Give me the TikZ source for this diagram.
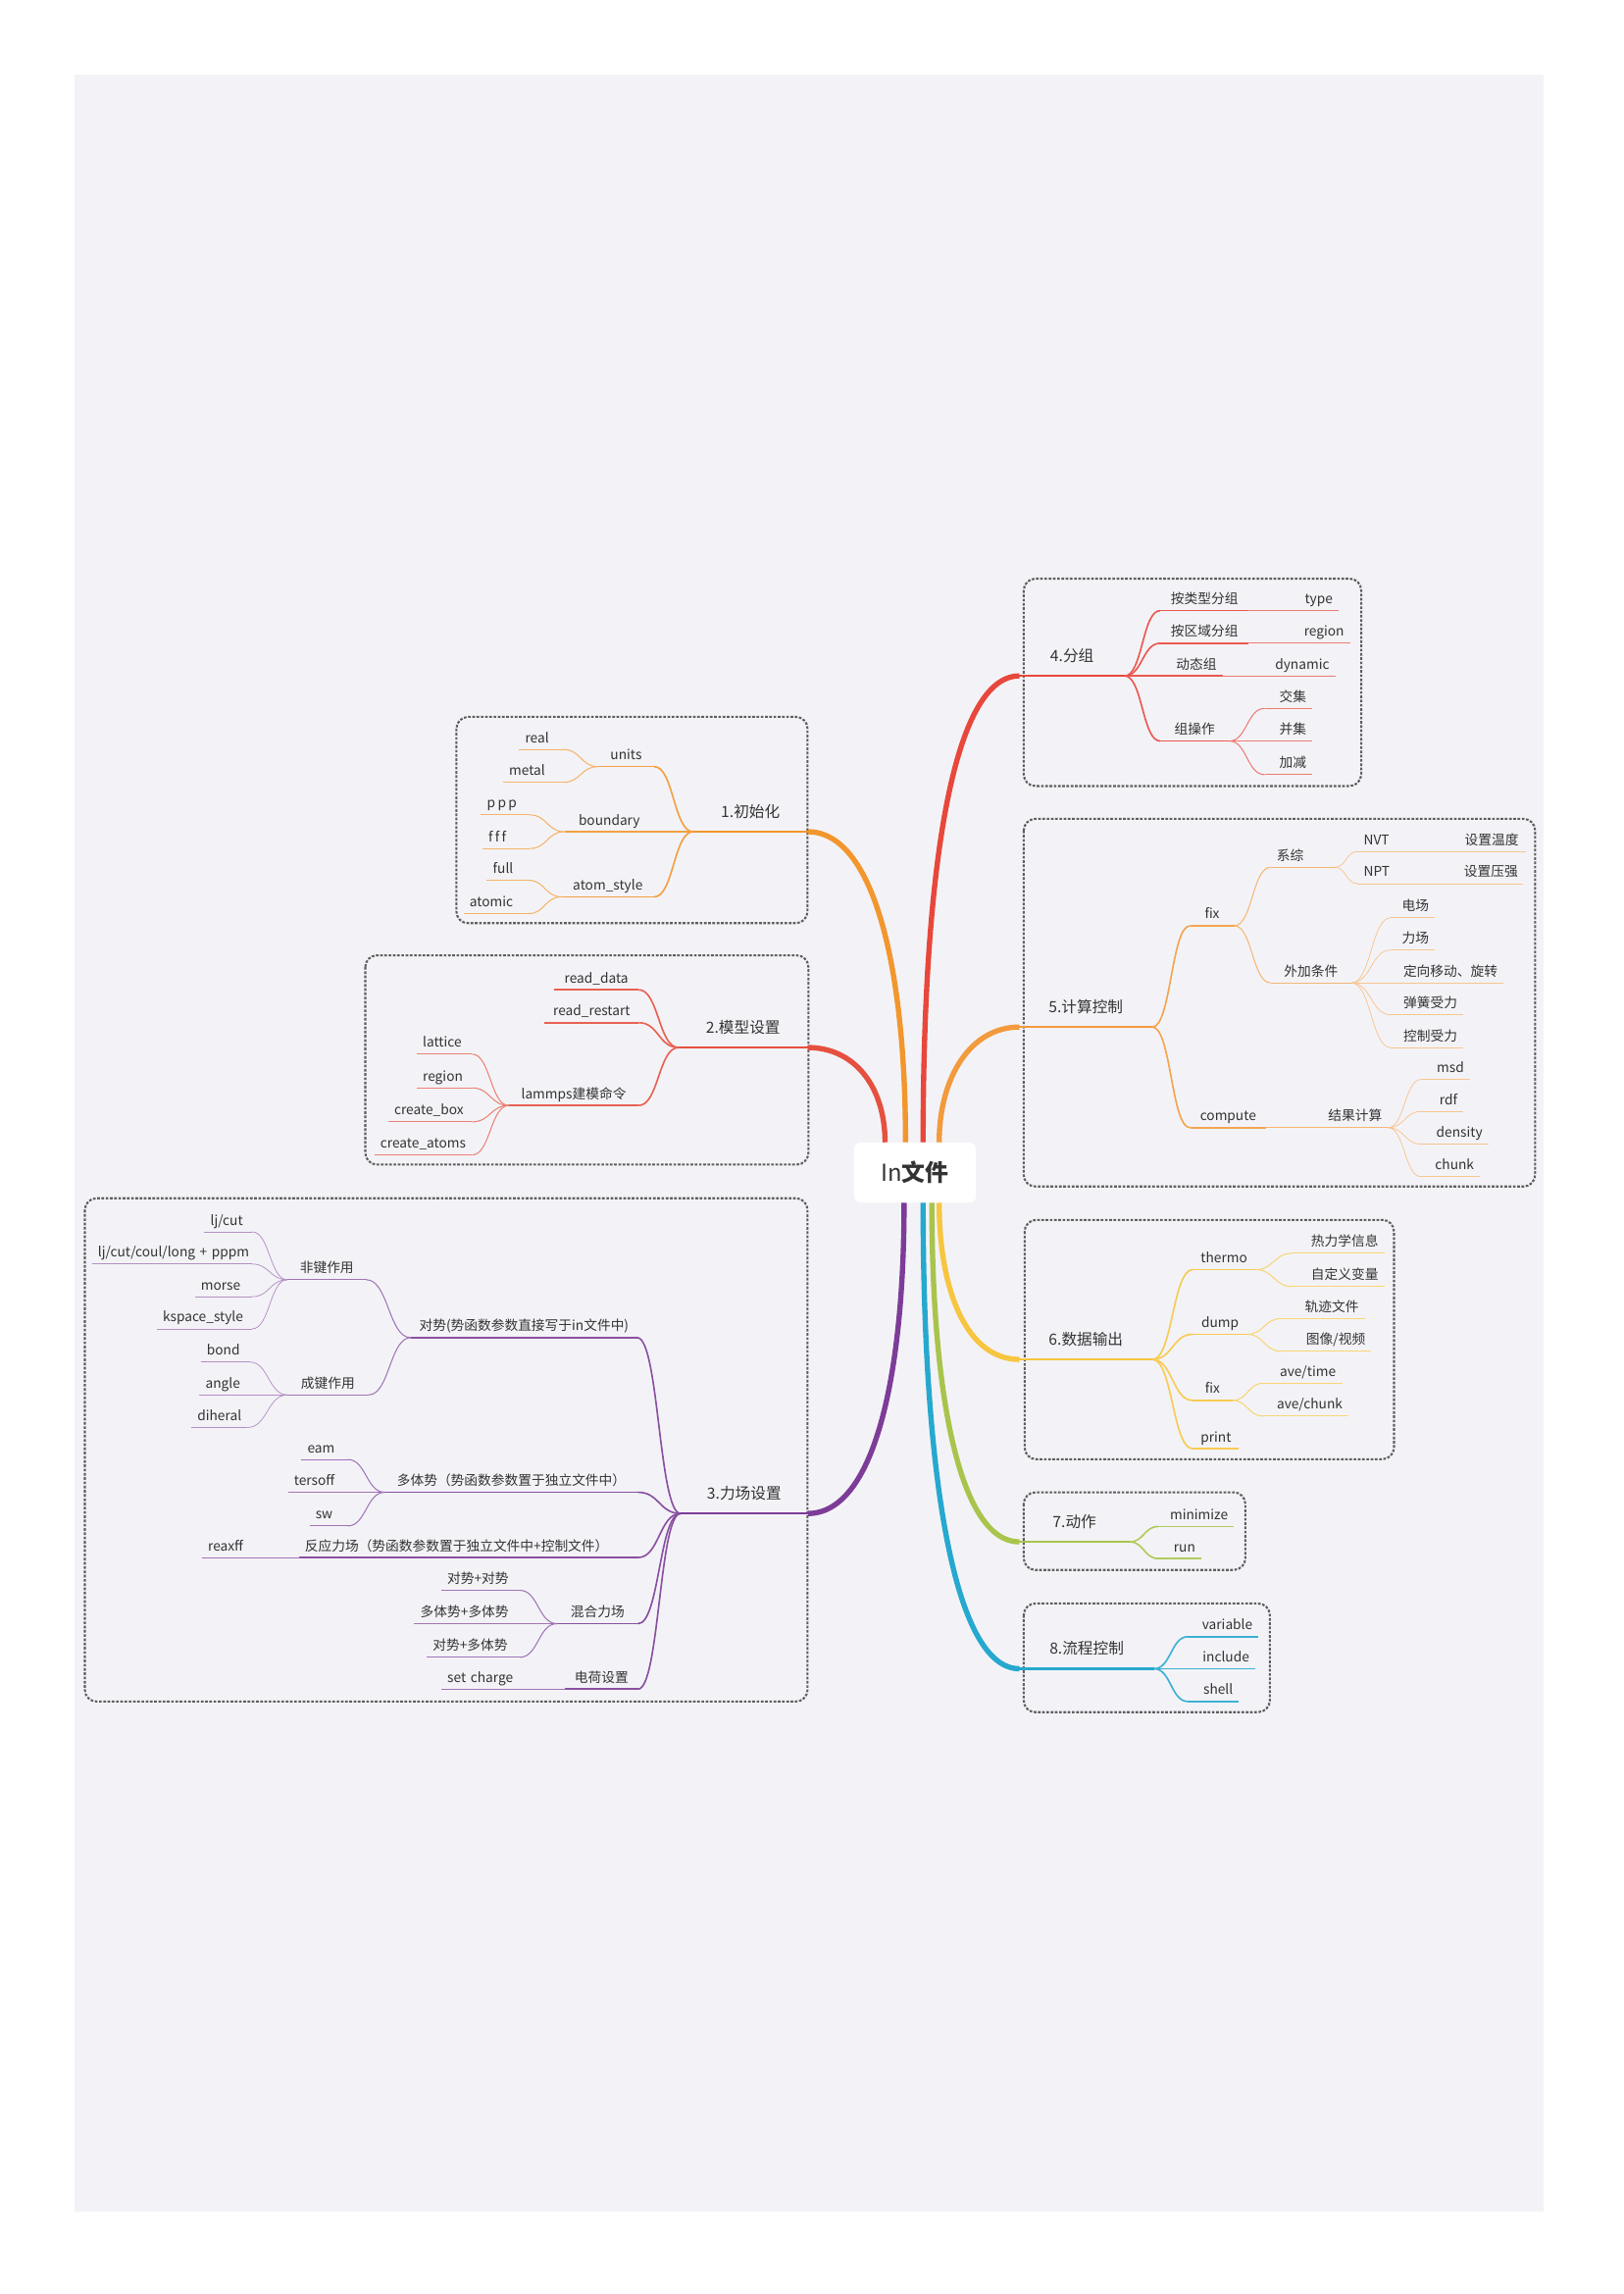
\documentclass[tikz,border=0pt]{standalone}
\usepackage{fontspec}
\setmainfont{Noto Sans CJK SC}
\usetikzlibrary{calc}
\definecolor{pagebg}{HTML}{F3F3F7}
\definecolor{txt}{HTML}{333333}
\definecolor{frame}{HTML}{5E5E5E}
\definecolor{b1}{HTML}{F2962E}
\definecolor{b2}{HTML}{E5503F}
\definecolor{b3}{HTML}{7D3C98}
\definecolor{b4}{HTML}{E8473C}
\definecolor{b5}{HTML}{F39A3C}
\definecolor{b6}{HTML}{F7C540}
\definecolor{b7}{HTML}{A9C44C}
\definecolor{b8}{HTML}{27A8CF}
\newcommand{\topicnode}[7][]{%
  \pgfmathsetmacro\tpwidth{#5-#4-8}%
  \node[topic,#1,text width=\tpwidth pt] (#3) at ({(#4+#5)/2},#6) {#7};%
  \draw[#2] (#3.south west) -- (#3.south east);}

\begin{document}
\begin{tikzpicture}[x=1pt,y=-1pt,
  topic/.style={anchor=south,inner xsep=4pt,inner ysep=2.5pt,text depth=2pt,align=center,text=txt,font=\fontsize{9.2}{11}\selectfont},
  main topic/.style={inner ysep=7.3pt,text depth=2.3pt,font=\fontsize{10.5}{12}\selectfont},
  root node/.style={fill=white,rounded corners=4pt,minimum width=83pt,minimum height=41pt,text=txt,font=\fontsize{16}{18}\selectfont},
  lft/.style={align=left},rgt/.style={align=right},
  trunk/.style={draw=\brc,line width=3.6pt},
  l1/.style={draw=\brc,line width=1.6pt},
  l2/.style={draw=\brc!90!white,line width=1.1pt},
  l3/.style={draw=\brc!72!white,line width=0.7pt},
  l4/.style={draw=\brc!58!white,line width=0.5pt},
  sc/.style={to path={.. controls ($(\tikztostart)!.5!(\tikztotarget|-\tikztostart)$) and ($(\tikztotarget)!.5!(\tikztostart|-\tikztotarget)$) .. (\tikztotarget)}},
  group box/.style={draw=frame,line width=1.4pt,dash pattern=on 1.8pt off 1.1pt,rounded corners=8pt}]
\useasboundingbox (0,0) rectangle (1110,1568);
\fill[white] (0,0) rectangle (1110,1568);
\fill[pagebg] (51,51) rectangle (1055,1512);

\node[root node] (c) at (625.5,801.5) {In\textbf{文件}};
\coordinate (t1) at ([xshift=-6.5pt]c.north);
\coordinate (t2) at ([xshift=-20.5pt]c.north);
\coordinate (t4) at ([xshift=5.5pt]c.north);
\coordinate (t5) at ([xshift=16.5pt]c.north);
\coordinate (t3) at ([xshift=-7.5pt]c.south);
\coordinate (t8) at ([xshift=5.5pt]c.south);
\coordinate (t7) at ([xshift=11.5pt]c.south);
\coordinate (t6) at ([xshift=16.5pt]c.south);

% 1
\def\brc{b1}
\draw[group box] (312,490) rectangle (552,631);
\topicnode[main topic]{l1}{init}{474}{552}{568.5}{1.初始化}
\topicnode{l2}{units}{409}{447}{524}{units}
\topicnode{l2}{boundary}{386}{447}{568.5}{boundary}
\topicnode{l2}{atom}{384}{447}{613}{atom\_style}
\topicnode[lft]{l3}{real}{355}{385}{512.3}{real}
\topicnode[lft]{l3}{metal}{344}{385}{534.7}{metal}
\topicnode[lft]{l3}{ppp}{329}{362}{557}{p\,p\,p}
\topicnode[lft]{l3}{fff}{330}{362}{580}{f\,f\,f}
\topicnode[lft]{l3}{full}{333}{361}{601.7}{full}
\topicnode[lft]{l3}{atomic}{317}{361}{624.5}{atomic}
\draw[trunk] (t1) .. controls +(0,-120) and +(45,0) .. (init.south east);
\path[l2] (init.south west) edge[sc] (units.south east) edge[sc] (boundary.south east) edge[sc] (atom.south east);
\path[l3] (units.south west) edge[sc] (real.south east) edge[sc] (metal.south east)
  (boundary.south west) edge[sc] (ppp.south east) edge[sc] (fff.south east)
  (atom.south west) edge[sc] (full.south east) edge[sc] (atomic.south east);

% 2
\def\brc{b2}
\draw[group box] (249.7,653) rectangle (552.6,796);
\topicnode[main topic]{l1}{model}{464}{552}{716}{2.模型设置}
\topicnode{l2}{readdata}{379}{436.4}{676.5}{read\_data}
\topicnode{l2}{readrestart}{372.5}{436.4}{699}{read\_restart}
\topicnode{l2}{lammps}{348}{436.4}{755.6}{lammps建模命令}
\topicnode[lft]{l3}{lattice}{285}{322.5}{720.5}{lattice}
\topicnode[lft]{l3}{regionA}{285}{322.5}{743.6}{region}
\topicnode[lft]{l3}{createbox}{265.5}{322.5}{766.8}{create\_box}
\topicnode[lft]{l3}{createatoms}{256}{322.5}{789.4}{create\_atoms}
\draw[trunk] (t2) .. controls +(0,-38) and +(32,0) .. (model.south east);
\path[l2] (model.south west) edge[sc] (readdata.south east) edge[sc] (readrestart.south east) edge[sc] (lammps.south east);
\path[l3] (lammps.south west) edge[sc] (lattice.south east) edge[sc] (regionA.south east) edge[sc] (createbox.south east) edge[sc] (createatoms.south east);

% 3
\def\brc{b3}
\draw[group box] (58,819) rectangle (552,1163);
\topicnode[main topic]{l1}{force}{465.4}{552}{1034.5}{3.力场设置}
\topicnode{l2}{pair}{281}{435.4}{914.3}{对势(势函数参数直接写于in文件中)}
\topicnode{l3}{nonbond}{196.6}{250.2}{874.7}{非键作用}
\topicnode[lft]{l4}{ljcut}{139.8}{172.2}{842}{lj/cut}
\topicnode[lft]{l4}{ljlong}{63}{172.2}{864}{\mbox{lj/cut/coul/long + pppm}}
\topicnode[lft]{l4}{morse}{133.3}{172.2}{886.3}{morse}
\topicnode[lft]{l4}{kspace}{107.3}{172.2}{908.3}{kspace\_style}
\topicnode{l3}{bonded}{196.6}{251.8}{953.4}{成键作用}
\topicnode[lft]{l4}{bond}{137.4}{170.6}{931}{bond}
\topicnode[lft]{l4}{angle}{136.5}{170.6}{953.4}{angle}
\topicnode[lft]{l4}{diheral}{131}{169}{975.7}{diheral}
\topicnode{l2}{many}{263.2}{436}{1020}{多体势（势函数参数置于独立文件中）}
\topicnode[lft]{l3}{eam}{206.2}{237.5}{997.6}{eam}
\topicnode[lft]{l3}{tersoff}{197}{237.5}{1020}{tersoff}
\topicnode[lft]{l3}{sw}{211.7}{237.5}{1043}{sw}
\topicnode[lft]{l2}{reax}{204.4}{436}{1064.6}{反应力场（势函数参数置于独立文件中+控制文件）}
\topicnode[lft]{l3}{reaxff}{138.2}{204.4}{1064.6}{reaxff}
\topicnode{l2}{mix}{380.9}{436}{1109.8}{混合力场}
\topicnode[lft]{l3}{pp}{301.8}{355.1}{1087}{对势+对势}
\topicnode[lft]{l3}{mm}{283.4}{355.1}{1109.8}{多体势+多体势}
\topicnode[lft]{l3}{pm}{291.9}{355.1}{1132.8}{对势+多体势}
\topicnode{l2}{charge}{386.4}{436}{1154.5}{电荷设置}
\topicnode[lft]{l3}{setcharge}{301.8}{386.4}{1154.5}{set charge}
\draw[trunk] (t3) .. controls +(0,120) and +(45,0) .. (force.south east);
\path[l2] (force.south west) edge[sc] (pair.south east) edge[sc] (many.south east) edge[sc] (reax.south east) edge[sc] (mix.south east) edge[sc] (charge.south east);
\path[l3] (pair.south west) edge[sc] (nonbond.south east) edge[sc] (bonded.south east)
  (many.south west) edge[sc] (eam.south east) edge[sc] (tersoff.south east) edge[sc] (sw.south east)
  (reax.south west) edge[sc] (reaxff.south east)
  (mix.south west) edge[sc] (pp.south east) edge[sc] (mm.south east) edge[sc] (pm.south east)
  (charge.south west) edge[sc] (setcharge.south east);
\path[l4] (nonbond.south west) edge[sc] (ljcut.south east) edge[sc] (ljlong.south east) edge[sc] (morse.south east) edge[sc] (kspace.south east)
  (bonded.south west) edge[sc] (bond.south east) edge[sc] (angle.south east) edge[sc] (diheral.south east);

% 4
\def\brc{b4}
\draw[group box] (699.8,395.5) rectangle (930.5,537.3);
\topicnode[main topic]{l1}{group}{697}{768.6}{462}{4.分组}
\topicnode{l2}{bytype}{793.2}{853.5}{417.4}{按类型分组}
\topicnode[rgt]{l3}{type}{853.5}{915}{417.4}{type}
\topicnode{l2}{byregion}{793.2}{853.5}{439.7}{按区域分组}
\topicnode[rgt]{l3}{regionB}{853.5}{922.8}{439.7}{region}
\topicnode[rgt]{l2}{dyn}{793.2}{835.6}{462}{动态组}
\topicnode[rgt]{l3}{dynamic}{835.6}{912.7}{462}{dynamic}
\topicnode{l2}{groupop}{793.2}{840.1}{506.5}{组操作}
\topicnode[rgt]{l3}{inter}{864.7}{897}{484.2}{交集}
\topicnode[rgt]{l3}{union}{864.7}{897}{506.5}{并集}
\topicnode[rgt]{l3}{addsub}{864.7}{897}{529.5}{加减}
\draw[trunk] (t4) .. controls +(0,-190) and +(-45,0) .. (group.south west);
\path[l2] (group.south east) edge[sc] (bytype.south west) edge[sc] (byregion.south west) edge[sc] (dyn.south west) edge[sc] (groupop.south west);
\path[l3] (bytype.south east) edge[sc] (type.south west)
  (byregion.south east) edge[sc] (regionB.south west)
  (dyn.south east) edge[sc] (dynamic.south west)
  (groupop.south east) edge[sc] (inter.south west) edge[sc] (union.south west) edge[sc] (addsub.south west);

% 5
\def\brc{b5}
\draw[group box] (699.8,559.7) rectangle (1049.4,811);
\topicnode[main topic]{l1}{calc}{697}{787.5}{702}{5.计算控制}
\topicnode{l2}{fix}{813.7}{843.5}{632.8}{fix}
\topicnode[lft]{l3}{ensemble}{868.7}{912.1}{592.8}{系综}
\topicnode[lft]{l4}{nvt}{928.2}{996.8}{582}{NVT}
\topicnode{l4}{settemp}{996.8}{1042.6}{582}{设置温度}
\topicnode[lft]{l4}{npt}{928.2}{996.8}{604}{NPT}
\topicnode{l4}{setpress}{996.8}{1040.9}{604}{设置压强}
\topicnode{l3}{extra}{868.7}{923.6}{671.8}{外加条件}
\topicnode[rgt]{l4}{efield}{951}{980.8}{627.2}{电场}
\topicnode[rgt]{l4}{ffield}{951}{980.8}{649.3}{力场}
\topicnode[rgt]{l4}{move}{951}{1027.7}{671.8}{定向移动、旋转}
\topicnode[rgt]{l4}{spring}{951}{1000.2}{693.7}{弹簧受力}
\topicnode[rgt]{l4}{control}{951}{1000.2}{716.1}{控制受力}
\topicnode{l2}{compute}{813.7}{865.3}{770.8}{compute}
\topicnode[rgt]{l3}{result}{865.3}{948.7}{770.8}{结果计算}
\topicnode[rgt]{l4}{msd}{971.6}{1004.7}{737.8}{msd}
\topicnode[rgt]{l4}{rdf}{971.6}{1000.2}{759.7}{rdf}
\topicnode[rgt]{l4}{density}{971.6}{1017.4}{782}{density}
\topicnode[rgt]{l4}{chunk}{971.6}{1011.6}{804.3}{chunk}
\draw[trunk] (t5) .. controls +(0,-45) and +(-33,0) .. (calc.south west);
\path[l2] (calc.south east) edge[sc] (fix.south west) edge[sc] (compute.south west);
\path[l3] (fix.south east) edge[sc] (ensemble.south west) edge[sc] (extra.south west)
  (compute.south east) edge[sc] (result.south west);
\path[l4] (ensemble.south east) edge[sc] (nvt.south west) edge[sc] (npt.south west)
  (nvt.south east) edge[sc] (settemp.south west)
  (npt.south east) edge[sc] (setpress.south west)
  (extra.south east) edge[sc] (efield.south west) edge[sc] (ffield.south west) edge[sc] (move.south west) edge[sc] (spring.south west) edge[sc] (control.south west)
  (result.south east) edge[sc] (msd.south west) edge[sc] (rdf.south west) edge[sc] (density.south west) edge[sc] (chunk.south west);

% 6
\def\brc{b6}
\draw[group box] (700.4,833.8) rectangle (952.9,997.4);
\topicnode[main topic]{l1}{output}{697}{787.6}{929.2}{6.数据输出}
\topicnode{l2}{thermo}{815.5}{858}{867.8}{thermo}
\topicnode[rgt]{l3}{thermoinfo}{883.6}{946.2}{856.6}{热力学信息}
\topicnode[rgt]{l3}{uservar}{883.6}{946.2}{879.4}{自定义变量}
\topicnode{l2}{dump}{815.5}{852.4}{912}{dump}
\topicnode[rgt]{l3}{traj}{875.8}{932.8}{901.3}{轨迹文件}
\topicnode[rgt]{l3}{image}{875.8}{937.3}{923.6}{图像/视频}
\topicnode{l2}{fixout}{815.5}{842.3}{957.2}{fix}
\topicnode[rgt]{l3}{avetime}{863.6}{917.2}{945.5}{ave/time}
\topicnode[rgt]{l3}{avechunk}{863.6}{921.7}{967.9}{ave/chunk}
\topicnode{l2}{print}{815.5}{846.8}{990.2}{print}
\draw[trunk] (t6) .. controls +(0,62) and +(-35,0) .. (output.south west);
\path[l2] (output.south east) edge[sc] (thermo.south west) edge[sc] (dump.south west) edge[sc] (fixout.south west) edge[sc] (print.south west);
\path[l3] (thermo.south east) edge[sc] (thermoinfo.south west) edge[sc] (uservar.south west)
  (dump.south east) edge[sc] (traj.south west) edge[sc] (image.south west)
  (fixout.south east) edge[sc] (avetime.south west) edge[sc] (avechunk.south west);

% 7
\def\brc{b7}
\draw[group box] (699.8,1020) rectangle (851.3,1073.1);
\topicnode[main topic]{l1}{action}{697}{772}{1053.9}{7.动作}
\topicnode[rgt]{l2}{minimize}{792}{843.4}{1043.4}{minimize}
\topicnode[rgt]{l2}{run}{792}{821.1}{1065.3}{run}
\draw[trunk] (t7) .. controls +(0,135) and +(-40,0) .. (action.south west);
\path[l2] (action.south east) edge[sc] (minimize.south west) edge[sc] (run.south west);

% 8
\def\brc{b8}
\draw[group box] (699.8,1096) rectangle (868,1170.3);
\topicnode[main topic]{l1}{flow}{697}{788.7}{1140.6}{8.流程控制}
\topicnode[rgt]{l2}{variable}{812.2}{860.2}{1118.7}{variable}
\topicnode[rgt]{l2}{include}{812.2}{858}{1140.6}{include}
\topicnode[rgt]{l2}{shell}{812.2}{846.8}{1163}{shell}
\draw[trunk] (t8) .. controls +(0,185) and +(-45,0) .. (flow.south west);
\path[l2] (flow.south east) edge[sc] (variable.south west) edge[sc] (include.south west) edge[sc] (shell.south west);
\end{tikzpicture}
\end{document}
